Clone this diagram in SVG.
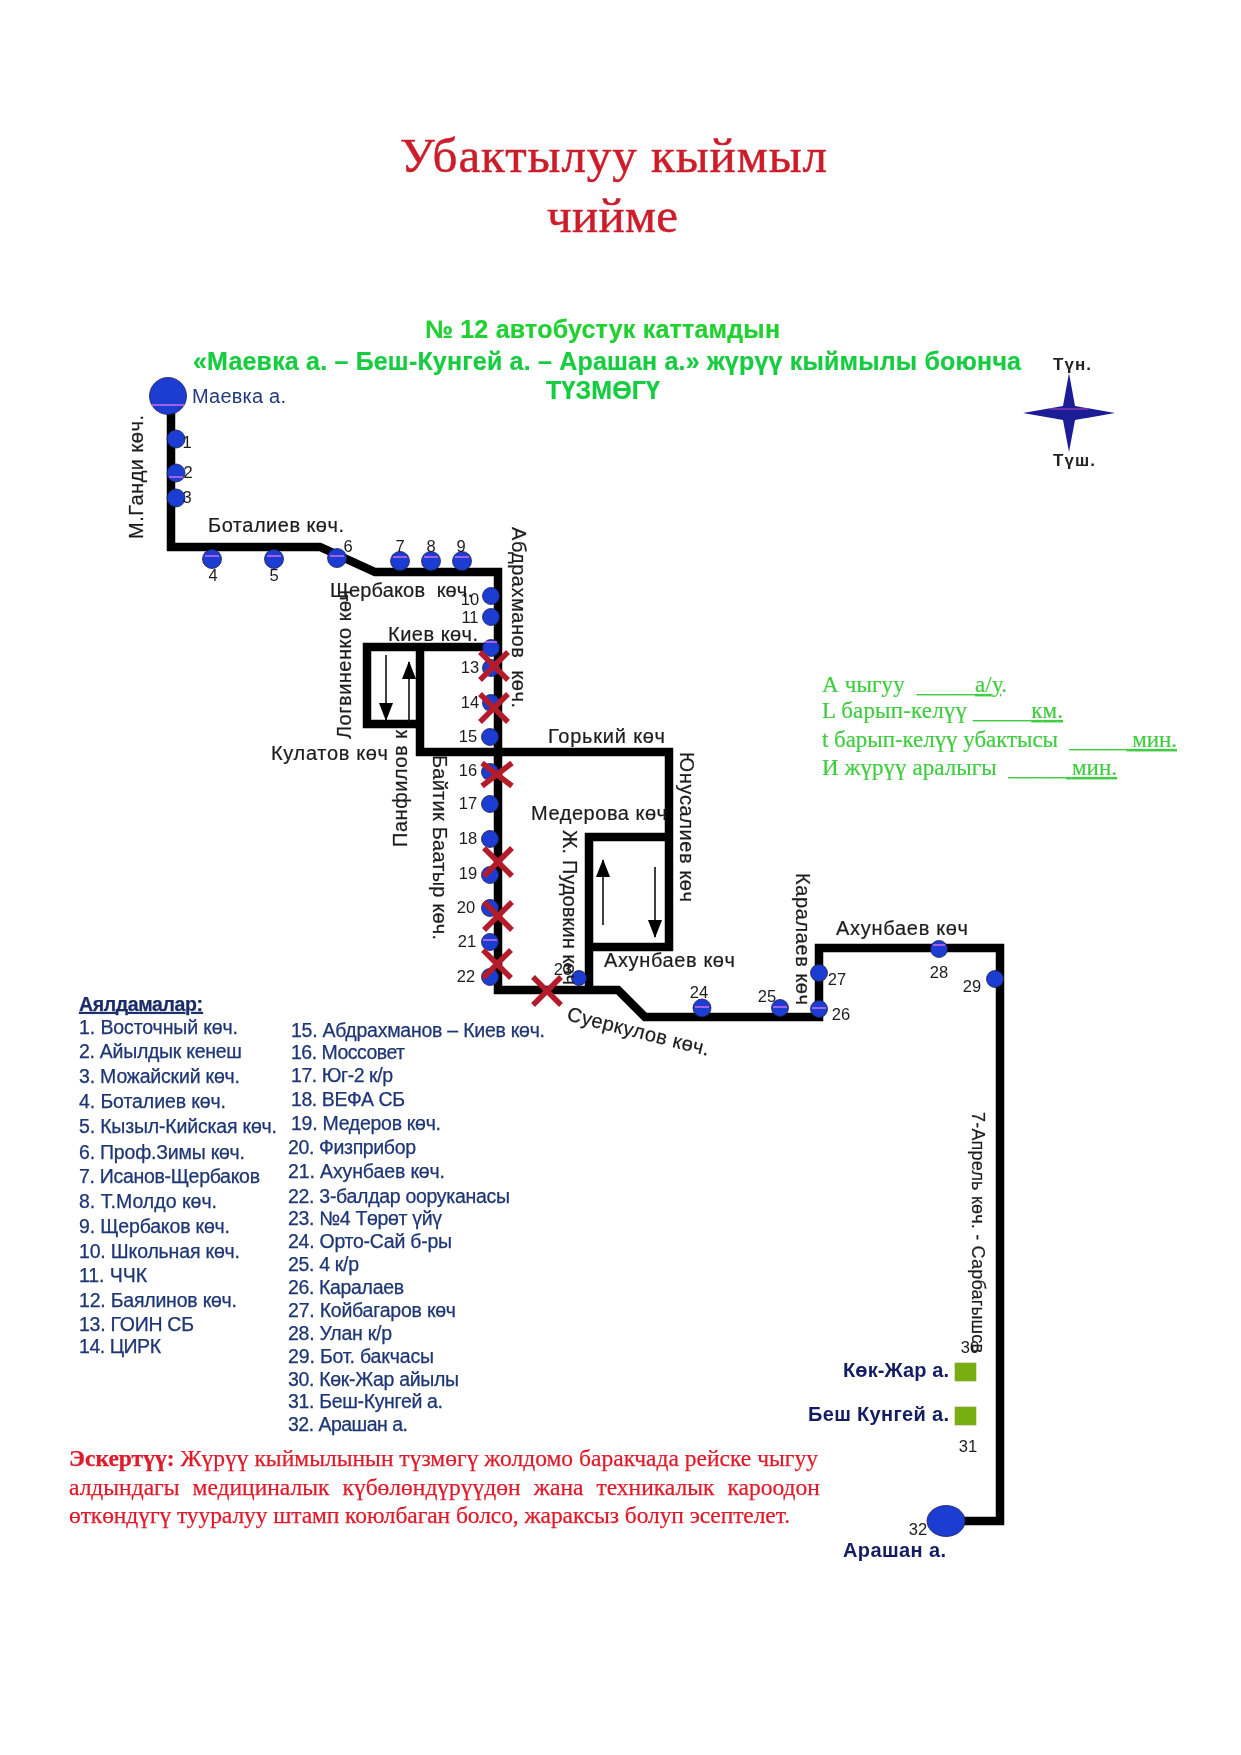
<svg xmlns="http://www.w3.org/2000/svg" width="1241" height="1755" viewBox="0 0 1241 1755">
<style>
text{font-family:"Liberation Sans",Arial,sans-serif}
.serif{font-family:"Liberation Serif","Times New Roman",serif}
.title{font-size:49px;fill:#cc1f2b;stroke:#cc1f2b;stroke-width:.5}
.sub{font-size:25px;font-weight:bold;fill:#20d030;stroke:#20d030;stroke-width:.2}
.info{font-size:23px;fill:#40cc40;stroke:#40cc40;stroke-width:.2}
.st{font-size:20px;fill:#1c1c1c;stroke:#1c1c1c;stroke-width:.2}
.num{font-size:16.5px;fill:#1c1c1c;text-anchor:middle}
.leg{font-size:19.5px;fill:#1e3574;stroke:#1e3574;stroke-width:.25}
.place{font-size:20px;font-weight:bold;fill:#141f62}
.warn{font-size:23.5px;fill:#e01a2a;stroke:#e01a2a;stroke-width:.25}
.stop{fill:#1a3cd2;stroke:#20204a;stroke-width:.8}
.mag{stroke:#c868e8;stroke-width:1.6}
.route{fill:none;stroke:#000;stroke-width:8.5;stroke-linejoin:miter}
.thin{fill:none;stroke:#111;stroke-width:1.6}
.cross{stroke:#b41f2c;stroke-width:5.5;stroke-linecap:butt}
</style>
<defs>
<filter id="soft" x="0" y="0" width="1" height="1" filterUnits="objectBoundingBox"><feGaussianBlur stdDeviation="0.75"/></filter>
<marker id="ah" markerWidth="18" markerHeight="14" refX="17" refY="7" orient="auto" markerUnits="userSpaceOnUse"><path d="M0 0L18 7L0 14Z" fill="#000"/></marker>
</defs>
<rect width="1241" height="1755" fill="#fff"/>
<g filter="url(#soft)">
<g id="connectors">
<path class="route" d="M171 396V547H320L375 572H498V990H618L645 1017H819V948H1000V1521H946"/>
<path class="route" d="M490 647H367V724H420"/>
<path class="route" d="M420 647V752H669V947H589"/>
<path class="route" d="M669 837H589V990"/>
<path class="thin" d="M386 655V720" marker-end="url(#ah)"/>
<path class="thin" d="M409 722V662" marker-end="url(#ah)"/>
<path class="thin" d="M603 925V860" marker-end="url(#ah)"/>
<path class="thin" d="M655 867V937" marker-end="url(#ah)"/>
</g>
<g id="nodes">
<g id="terminal-maevka"><circle class="stop" cx="168" cy="396" r="18.5" stroke-width="1.2"/><line class="mag" x1="152" y1="405" x2="184" y2="405"/><text x="192" y="403" class="place" style="font-weight:normal;fill:#23397e" textLength="94">Маевка а.</text></g>
<g id="stop-1"><circle class="stop" cx="176" cy="439" r="9"/><text class="num" x="187" y="448">1</text></g>
<g id="stop-2"><circle class="stop" cx="176" cy="473" r="9"/><line class="mag" x1="169" y1="477" x2="183" y2="477"/><text class="num" x="188" y="478">2</text></g>
<g id="stop-3"><circle class="stop" cx="176" cy="498" r="9"/><text class="num" x="187" y="503">3</text></g>
<g id="stop-4"><circle class="stop" cx="212" cy="559" r="9.5"/><line class="mag" x1="205" y1="556" x2="219" y2="556"/><text class="num" x="213" y="581">4</text></g>
<g id="stop-5"><circle class="stop" cx="274" cy="559" r="9.5"/><line class="mag" x1="267" y1="556" x2="281" y2="556"/><text class="num" x="274" y="581">5</text></g>
<g id="stop-6"><circle class="stop" cx="337" cy="558" r="9.5"/><line class="mag" x1="330" y1="556" x2="344" y2="556"/><text class="num" x="348" y="552">6</text></g>
<g id="stop-7"><circle class="stop" cx="400" cy="561" r="9.5"/><line class="mag" x1="393" y1="557" x2="407" y2="557"/><text class="num" x="400" y="552">7</text></g>
<g id="stop-8"><circle class="stop" cx="431" cy="561" r="9.5"/><line class="mag" x1="424" y1="557" x2="438" y2="557"/><text class="num" x="431" y="552">8</text></g>
<g id="stop-9"><circle class="stop" cx="462" cy="561" r="9.5"/><line class="mag" x1="455" y1="557" x2="469" y2="557"/><text class="num" x="461" y="552">9</text></g>
<g id="stop-10"><circle class="stop" cx="491" cy="596" r="8.5"/><text class="num" x="470" y="605">10</text></g>
<g id="stop-11"><circle class="stop" cx="491" cy="617" r="8.5"/><text class="num" x="470" y="623">11</text></g>
<g id="stop-12"><circle class="stop" cx="491" cy="648" r="8.5"/><line class="mag" x1="485" y1="642" x2="497" y2="642"/></g>
<g id="stop-13"><circle class="stop" cx="491" cy="668" r="8.5"/><text class="num" x="470" y="673">13</text></g>
<g id="stop-14"><circle class="stop" cx="491" cy="703" r="8.5"/><text class="num" x="470" y="708">14</text></g>
<g id="stop-15"><circle class="stop" cx="490" cy="737" r="8.5"/><text class="num" x="468" y="742">15</text></g>
<g id="stop-16"><circle class="stop" cx="490" cy="772" r="8.5"/><text class="num" x="468" y="776">16</text></g>
<g id="stop-17"><circle class="stop" cx="490" cy="804" r="8.5"/><text class="num" x="468" y="809">17</text></g>
<g id="stop-18"><circle class="stop" cx="490" cy="839" r="8.5"/><text class="num" x="468" y="844">18</text></g>
<g id="stop-19"><circle class="stop" cx="490" cy="875" r="8.5"/><text class="num" x="468" y="879">19</text></g>
<g id="stop-20"><circle class="stop" cx="490" cy="908" r="8.5"/><text class="num" x="466" y="913">20</text></g>
<g id="stop-21"><circle class="stop" cx="490" cy="942" r="8.5"/><line class="mag" x1="483" y1="940" x2="497" y2="940" stroke-width="3"/><text class="num" x="467" y="947">21</text></g>
<g id="stop-22"><circle class="stop" cx="490" cy="977" r="8.5"/><text class="num" x="466" y="982">22</text></g>
<g id="stop-23"><circle class="stop" cx="579" cy="978" r="7.5"/><text class="num" x="563" y="975">23</text></g>
<g id="stop-24"><circle class="stop" cx="702" cy="1008" r="9"/><line class="mag" x1="695" y1="1007" x2="709" y2="1007"/><text class="num" x="699" y="998">24</text></g>
<g id="stop-25"><circle class="stop" cx="780" cy="1008" r="8.5"/><line class="mag" x1="773" y1="1007" x2="787" y2="1007"/><text class="num" x="767" y="1002">25</text></g>
<g id="stop-26"><circle class="stop" cx="819" cy="1009" r="8.5"/><line class="mag" x1="812" y1="1008" x2="826" y2="1008"/><text class="num" x="841" y="1020">26</text></g>
<g id="stop-27"><circle class="stop" cx="819" cy="973" r="8.5"/><text class="num" x="837" y="985">27</text></g>
<g id="stop-28"><circle class="stop" cx="939" cy="949" r="8.5"/><line class="mag" x1="933" y1="945" x2="945" y2="945"/><text class="num" x="939" y="978">28</text></g>
<g id="stop-29"><circle class="stop" cx="995" cy="979" r="8.5"/><text class="num" x="972" y="992">29</text></g>
<g id="stop-30"><rect x="955" y="1363" width="21" height="18" fill="#78ae10" stroke="#8a9a40" stroke-width=".6"/><text class="num" x="970" y="1353">30</text><text class="place" x="843" y="1377" textLength="106">Көк-Жар а.</text></g>
<g id="stop-31"><rect x="955" y="1407" width="21" height="18" fill="#78ae10" stroke="#8a9a40" stroke-width=".6"/><text class="num" x="968" y="1452">31</text><text class="place" x="808" y="1421" textLength="141">Беш Кунгей а.</text></g>
<g id="terminal-arashan"><ellipse class="stop" cx="946" cy="1521" rx="19" ry="15.5"/><text class="num" x="918" y="1535">32</text><text class="place" x="843" y="1557" textLength="103">Арашан а.</text></g>
</g>
<g id="crosses">
<path class="cross" d="M480 652L508 680M508 652L480 680"/>
<path class="cross" d="M480 694L508 722M508 694L480 722"/>
<path class="cross" d="M482 763L512 786M512 763L482 786"/>
<path class="cross" d="M484 848L512 876M512 848L484 876"/>
<path class="cross" d="M484 902L512 930M512 902L484 930"/>
<path class="cross" d="M483 950L511 978M511 950L483 978"/>
<path class="cross" d="M533 977L561 1005M561 977L533 1005"/>
</g>
<g id="street-labels">
<text class="st" transform="translate(143 539) rotate(-90)" textLength="124">М.Ганди көч.</text>
<text class="st" x="208" y="532" textLength="136">Боталиев көч.</text>
<text class="st" x="330" y="597" textLength="143" xml:space="preserve">Щербаков  көч.</text>
<text class="st" transform="translate(351 739) rotate(-90)" textLength="149">Логвиненко көч</text>
<text class="st" x="388" y="641" textLength="90">Киев көч.</text>
<text class="st" transform="translate(512 527) rotate(90)" textLength="181" xml:space="preserve">Абдрахманов  көч.</text>
<text class="st" x="271" y="760" textLength="117">Кулатов көч</text>
<text class="st" transform="translate(407 847) rotate(-90)" textLength="117">Панфилов к</text>
<text class="st" transform="translate(433 755) rotate(90)" textLength="185">Байтик Баатыр көч.</text>
<text class="st" x="548" y="743" textLength="117">Горький көч</text>
<text class="st" transform="translate(680 752) rotate(90)" textLength="150">Юнусалиев көч</text>
<text class="st" x="531" y="820" textLength="136">Медерова көч</text>
<text class="st" transform="translate(563 830) rotate(90)" textLength="155">Ж. Пудовкин көч</text>
<text class="st" x="604" y="967" textLength="131">Ахунбаев көч</text>
<text class="st" transform="translate(566 1020) rotate(14.2)" textLength="146">Суеркулов көч.</text>
<text class="st" transform="translate(796 873) rotate(90)" textLength="132">Каралаев көч</text>
<text class="st" x="836" y="935" textLength="132">Ахунбаев көч</text>
<text class="st" style="font-size:18px" transform="translate(972 1112) rotate(90)" textLength="241">7-Апрель көч. - Сарбагышсв</text>
</g>
<g id="heading">
<text class="title serif" x="400" y="172" textLength="427">Убактылуу кыймыл</text>
<text class="title serif" x="547" y="232" textLength="131">чийме</text>
<text class="sub" x="425" y="338" textLength="355">№ 12 автобустук каттамдын</text>
<text class="sub" style="fill:#18cc40;stroke:#18cc40" x="193" y="370" textLength="828">«Маевка а. – Беш-Кунгей а. – Арашан а.» жүрүү кыймылы боюнча</text>
<text class="sub" style="fill:#18cc40;stroke:#18cc40" x="546" y="399" textLength="114">ТҮЗМӨГҮ</text>
</g>
<g id="compass">
<path d="M1069 373L1075 406L1115 413L1075 420L1069 452L1063 420L1023 413L1063 406Z" fill="#1a1a96"/>
<line x1="1050" y1="409" x2="1088" y2="409" stroke="#c040c0" stroke-width="1"/>
<text x="1053" y="370" font-size="17" font-weight="bold" fill="#222" textLength="38">Түн.</text>
<text x="1053" y="466" font-size="17" font-weight="bold" fill="#222" textLength="42">Түш.</text>
</g>
<g id="trip-info">
<text class="info serif" x="822" y="692" textLength="185" xml:space="preserve">А чыгуу  _____<tspan text-decoration="underline">а/у</tspan>.</text>
<text class="info serif" x="822" y="718" textLength="241" xml:space="preserve">L барып-келүү _____<tspan text-decoration="underline">км.</tspan></text>
<text class="info serif" x="822" y="747" textLength="355" xml:space="preserve">t барып-келүү убактысы  _____<tspan text-decoration="underline"> мин.</tspan></text>
<text class="info serif" x="822" y="775" textLength="295" xml:space="preserve">И жүрүү аралыгы  _____<tspan text-decoration="underline"> мин.</tspan></text>
</g>
<g id="legend">
<text class="leg" x="79" y="1011" font-weight="bold" text-decoration="underline" style="fill:#1e2c66" textLength="124">Аялдамалар:</text>
<text class="leg" x="79" y="1034" textLength="159">1. Восточный көч.</text>
<text class="leg" x="79" y="1058" textLength="163">2. Айылдык кенеш</text>
<text class="leg" x="79" y="1083" textLength="161">3. Можайский көч.</text>
<text class="leg" x="79" y="1108" textLength="147">4. Боталиев көч.</text>
<text class="leg" x="79" y="1133" textLength="198">5. Кызыл-Кийская көч.</text>
<text class="leg" x="79" y="1159" textLength="166">6. Проф.Зимы көч.</text>
<text class="leg" x="79" y="1183" textLength="181">7. Исанов-Щербаков</text>
<text class="leg" x="79" y="1208" textLength="138">8. Т.Молдо көч.</text>
<text class="leg" x="79" y="1233" textLength="151">9. Щербаков көч.</text>
<text class="leg" x="79" y="1258" textLength="161">10. Школьная көч.</text>
<text class="leg" x="79" y="1282" textLength="68">11. ЧЧК</text>
<text class="leg" x="79" y="1307" textLength="158">12. Баялинов көч.</text>
<text class="leg" x="79" y="1331" textLength="115">13. ГОИН СБ</text>
<text class="leg" x="79" y="1353" textLength="82">14. ЦИРК</text>
<text class="leg" x="291" y="1037" textLength="254">15. Абдрахманов – Киев көч.</text>
<text class="leg" x="291" y="1059" textLength="114">16. Моссовет</text>
<text class="leg" x="291" y="1082" textLength="102">17. Юг-2 к/р</text>
<text class="leg" x="291" y="1106" textLength="114">18. ВЕФА СБ</text>
<text class="leg" x="291" y="1130" textLength="150">19. Медеров көч.</text>
<text class="leg" x="288" y="1154" textLength="128">20. Физприбор</text>
<text class="leg" x="288" y="1178" textLength="157">21. Ахунбаев көч.</text>
<text class="leg" x="288" y="1203" textLength="222">22. 3-балдар ооруканасы</text>
<text class="leg" x="288" y="1225" textLength="154">23. №4 Төрөт үйү</text>
<text class="leg" x="288" y="1248" textLength="164">24. Орто-Сай б-ры</text>
<text class="leg" x="288" y="1271" textLength="71">25. 4 к/р</text>
<text class="leg" x="288" y="1294" textLength="116">26. Каралаев</text>
<text class="leg" x="288" y="1317" textLength="168">27. Койбагаров көч</text>
<text class="leg" x="288" y="1340" textLength="104">28. Улан к/р</text>
<text class="leg" x="288" y="1363" textLength="146">29. Бот. бакчасы</text>
<text class="leg" x="288" y="1386" textLength="171">30. Көк-Жар айылы</text>
<text class="leg" x="288" y="1408" textLength="155">31. Беш-Кунгей а.</text>
<text class="leg" x="288" y="1431" textLength="120">32. Арашан а.</text>
</g>
<g id="warning">
<text class="warn serif" x="69" y="1466" textLength="749"><tspan font-weight="bold">Эскертүү:</tspan> Жүрүү кыймылынын түзмөгү жолдомо баракчада рейске чыгуу</text>
<text class="warn serif" x="69" y="1495" word-spacing="7.2">алдындагы медициналык күбөлөндүрүүдөн жана техникалык кароодон</text>
<text class="warn serif" x="69" y="1523" textLength="721">өткөндүгү тууралуу штамп коюлбаган болсо, жараксыз болуп эсептелет.</text>
</g>
</g>
</svg>
